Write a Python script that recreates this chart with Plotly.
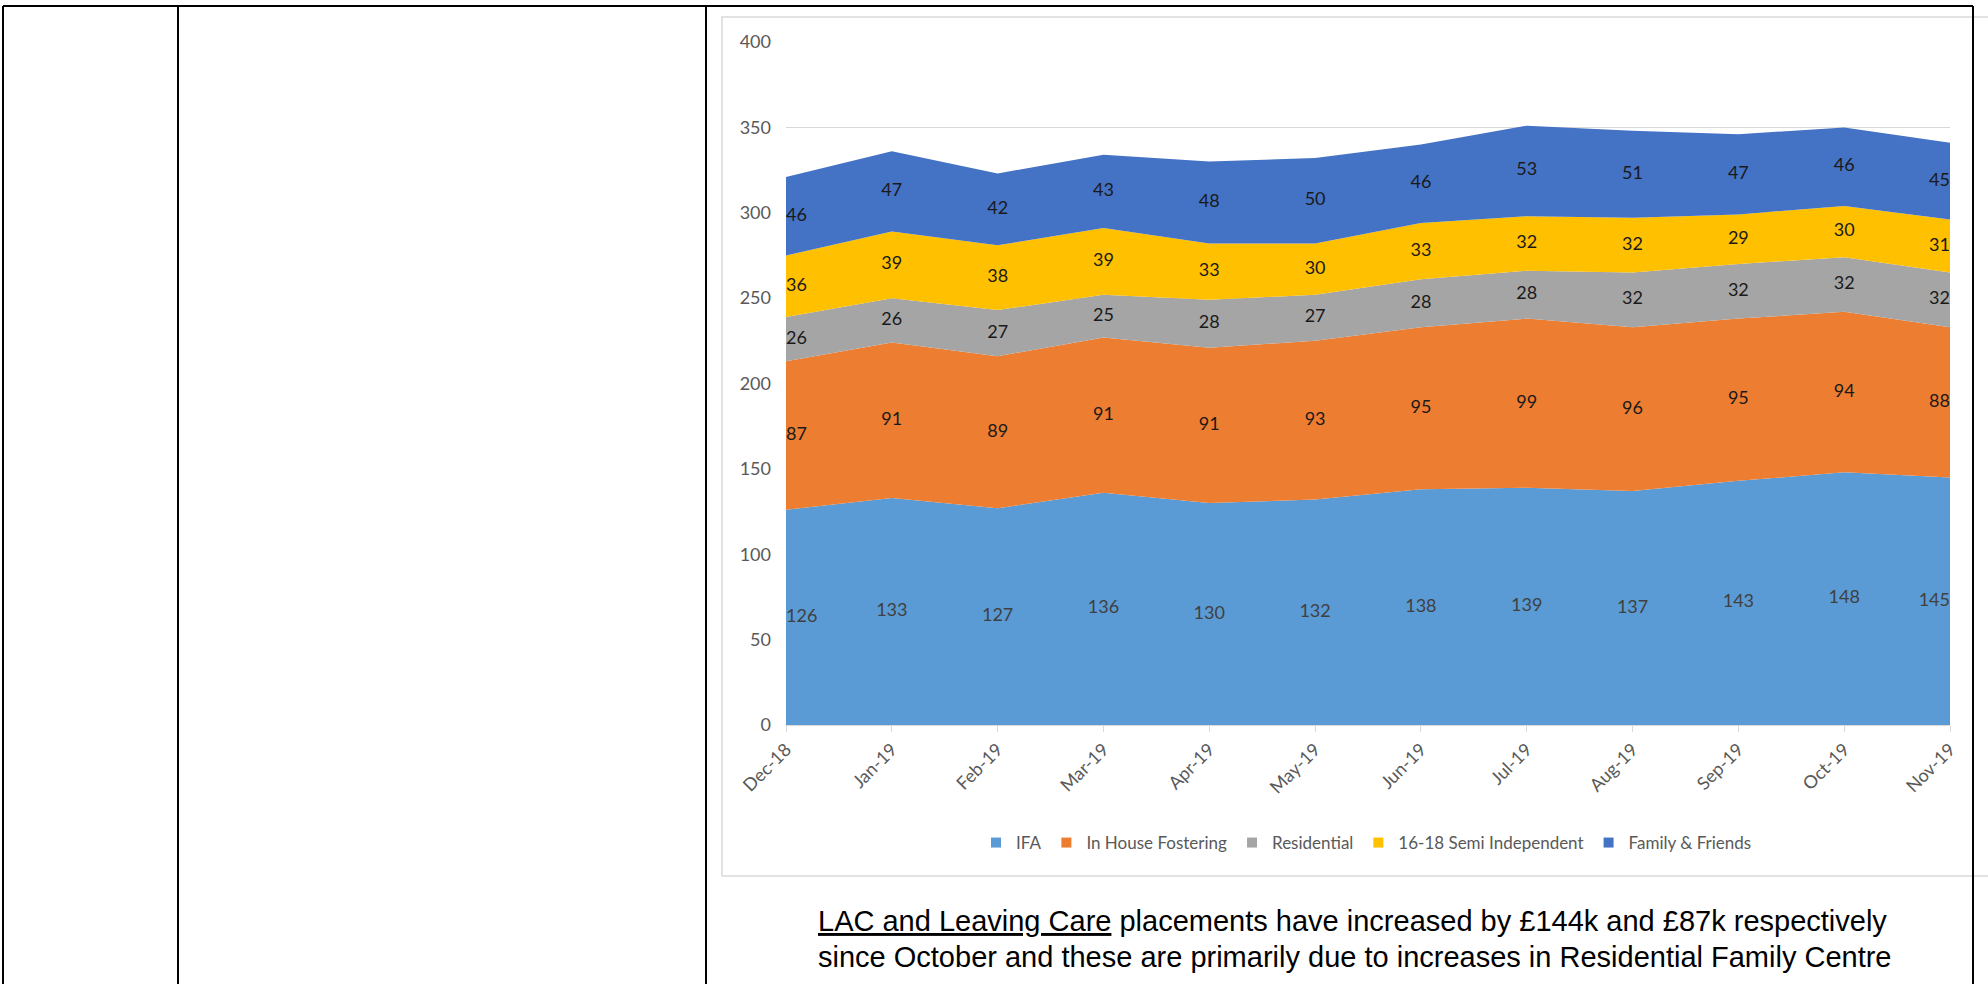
import numpy as np
import plotly.graph_objects as go

months = ["Dec-18", "Jan-19", "Feb-19", "Mar-19", "Apr-19", "May-19",
          "Jun-19", "Jul-19", "Aug-19", "Sep-19", "Oct-19", "Nov-19"]
ifa = [126, 133, 127, 136, 130, 132, 138, 139, 137, 143, 148, 145]
in_house = [87, 91, 89, 91, 91, 93, 95, 99, 96, 95, 94, 88]
residential = [26, 26, 27, 25, 28, 27, 28, 28, 32, 32, 32, 32]
semi_ind = [36, 39, 38, 39, 33, 30, 33, 32, 32, 29, 30, 31]
family = [46, 47, 42, 43, 48, 50, 46, 53, 51, 47, 46, 45]

series = [
    ("IFA", ifa, "#5B9BD5", "#404040"),
    ("In House Fostering", in_house, "#ED7D31", "#1a1a1a"),
    ("Residential", residential, "#A5A5A5", "#1a1a1a"),
    ("16-18 Semi Independent", semi_ind, "#FFC000", "#1a1a1a"),
    ("Family & Friends", family, "#4472C4", "#1a1a1a"),
]

W, H = 1988, 984
L, R, T, B = 786, 38, 42, 259
PW, PH = W - L - R, H - T - B


def px(x):
    return (x - L) / PW


def py(y):
    return (H - B - y) / PH


fig = go.Figure()
base = np.zeros(len(months))
positions = ["middle right"] + ["middle center"] * (len(months) - 2) + ["middle left"]
for name, vals, color, tcol in series:
    v = np.array(vals, dtype=float)
    fig.add_trace(go.Scatter(
        x=months, y=vals, name=name, stackgroup="one", mode="lines",
        line=dict(width=0, color=color), fillcolor=color, showlegend=False,
        hoverinfo="skip"))
    mids = base + v / 2
    fig.add_trace(go.Scatter(
        x=months, y=mids, mode="text", text=[str(t) for t in vals],
        textposition=positions, showlegend=False, hoverinfo="skip",
        textfont=dict(family="Lato", size=18, color=tcol)))
    base = base + v

for name, vals, color, tcol in series:
    fig.add_trace(go.Scatter(
        x=[None], y=[None], mode="markers", name=name,
        marker=dict(symbol="square", size=10, color=color)))

line_black = dict(color="black", width=2)
shapes = [
    dict(type="line", xref="paper", yref="paper", x0=px(3), x1=px(1973), y0=py(6), y1=py(6), line=line_black),
    dict(type="line", xref="paper", yref="paper", x0=px(3), x1=px(3), y0=py(6), y1=py(990), line=line_black),
    dict(type="line", xref="paper", yref="paper", x0=px(178), x1=px(178), y0=py(6), y1=py(990), line=line_black),
    dict(type="line", xref="paper", yref="paper", x0=px(706), x1=px(706), y0=py(6), y1=py(990), line=line_black),
    dict(type="line", xref="paper", yref="paper", x0=px(1973), x1=px(1973), y0=py(6), y1=py(990), line=line_black),
    dict(type="rect", xref="paper", yref="paper", x0=px(722), x1=px(1995), y0=py(876), y1=py(17),
         line=dict(color="#D9D9D9", width=1.5), layer="below"),
]

annotations = [
    dict(xref="paper", yref="paper", x=px(816), y=py(921), xanchor="left", yanchor="middle",
         showarrow=False,
         text="<u>LAC and Leaving Care</u> placements have increased by £144k and £87k respectively",
         font=dict(family="Liberation Sans", size=29, color="black")),
    dict(xref="paper", yref="paper", x=px(816), y=py(957), xanchor="left", yanchor="middle",
         showarrow=False,
         text="since October and these are primarily due to increases in Residential Family Centre",
         font=dict(family="Liberation Sans", size=29, color="black")),
]

fig.update_layout(
    width=W, height=H,
    margin=dict(l=L, r=R, t=T, b=B),
    paper_bgcolor="white", plot_bgcolor="white",
    shapes=shapes, annotations=annotations,
    legend=dict(orientation="h", x=px(976), y=py(843), xanchor="left", yanchor="middle",
                font=dict(family="Lato", size=17, color="#595959"),
                itemwidth=30, traceorder="normal", bgcolor="rgba(0,0,0,0)"),
    xaxis=dict(type="category", range=[0, len(months) - 1], showgrid=False,
               showline=True, linecolor="#D9D9D9", linewidth=1,
               ticks="outside", ticklen=6, tickcolor="#D9D9D9", tickangle=-45,
               tickfont=dict(family="Lato", size=18, color="#595959")),
    yaxis=dict(range=[0, 400], dtick=50, showgrid=True, gridcolor="#D9D9D9", gridwidth=1,
               showline=False, zeroline=False, ticks="", ticklabelstandoff=14,
               tickfont=dict(family="Lato", size=18, color="#595959")),
)

fig.write_html("out.html")
